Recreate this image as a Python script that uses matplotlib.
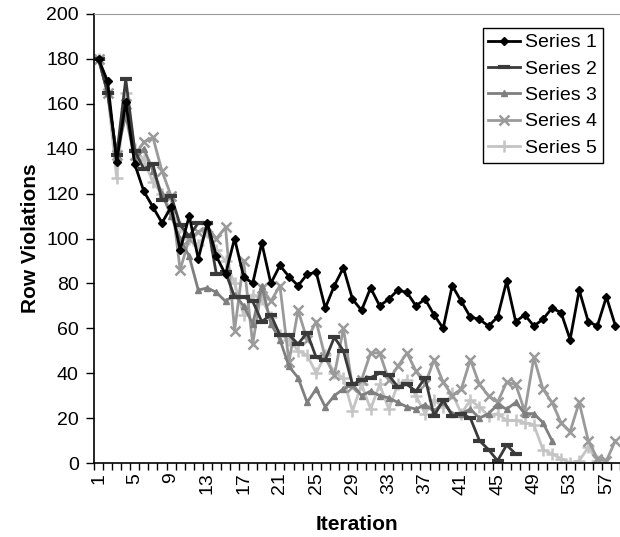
"""
Row violations per iteration for five runs.
"""

import matplotlib
matplotlib.use("Agg")
import matplotlib.pyplot as plt
import numpy as np

plt.rcParams["font.family"] = ["Liberation Sans", "DejaVu Sans"]

# values (one entry per iteration, runs end early)
series1 = [180, 170, 134, 161, 133, 121, 114, 107, 114, 95,
           110, 91, 107, 92, 84, 100, 83, 80, 98, 80,
           88, 83, 79, 84, 85, 69, 79, 87, 73, 68,
           78, 70, 73, 77, 76, 70, 73, 66, 60, 79,
           72, 65, 64, 61, 65, 81, 63, 66, 61, 64,
           69, 67, 55, 77, 63, 61, 74, 61]
series2 = [180, 165, 137, 171, 139, 131, 133, 117, 119, 106,
           101, 107, 107, 84, 85, 74, 74, 72, 63, 66,
           57, 57, 53, 58, 47, 46, 56, 50, 35, 37,
           38, 40, 39, 34, 35, 32, 38, 21, 28, 21,
           22, 20, 10, 6, 1, 8, 4]
series3 = [180, 165, 137, 155, 135, 140, 130, 120, 110, 100,
           92, 77, 78, 76, 72, 75, 70, 62, 79, 62,
           55, 43, 38, 27, 33, 25, 30, 33, 35, 30,
           32, 30, 29, 27, 25, 24, 26, 23, 27, 22,
           22, 24, 20, 22, 26, 24, 27, 22, 22, 18,
           10]
series4 = [180, 165, 137, 160, 137, 143, 145, 130, 119, 86,
           100, 103, 105, 100, 105, 59, 90, 53, 78, 72,
           79, 45, 68, 55, 63, 47, 39, 60, 34, 37,
           49, 49, 37, 43, 49, 41, 35, 46, 36, 30,
           33, 46, 35, 30, 27, 36, 35, 23, 47, 33,
           27, 18, 14, 27, 10, 2, 1, 10]
series5 = [180, 165, 127, 165, 140, 135, 125, 120, 112, 105,
           100, 97, 103, 95, 90, 80, 66, 75, 73, 65,
           57, 55, 50, 48, 40, 48, 40, 38, 23, 35,
           24, 35, 24, 35, 37, 30, 22, 28, 25, 31,
           22, 28, 25, 21, 22, 19, 19, 18, 17, 6,
           4, 2, 0, 1, 7, 1, 0]
labels = ["Series 1", "Series 2", "Series 3", "Series 4", "Series 5"]
n_iter = 58

fig = plt.figure(figsize=(6.2, 5.37), dpi=100)
ax = fig.add_axes([94 / 620, 74 / 537, 526 / 620, 449 / 537])

# grey levels and markers like the old excel chart
styles = [
    dict(color="black", marker="D", ms=4.5, mew=1),
    dict(color="#3a3a3a", marker="_", ms=8, mew=3),
    dict(color="#7f7f7f", marker="^", ms=5, mew=1),
    dict(color="#9a9a9a", marker="x", ms=6.5, mew=1.8),
    dict(color="#c4c4c4", marker="+", ms=8, mew=1.8),
]
data = [series1, series2, series3, series4, series5]

# draw the lighter series first so the black one sits on top
for vals, lab, st in reversed(list(zip(data, labels, styles))):
    x = np.arange(1, len(vals) + 1)
    ax.plot(x, vals, lw=2, label=lab, **st)

# axes decoration
ax.set_xlim(0.5, n_iter + 0.5)
ax.set_ylim(0, 200)
ax.set_yticks(np.arange(0, 201, 20))
ax.set_xticks(np.arange(1, n_iter + 1, 4))
ax.set_xticks(np.arange(0.5, n_iter + 1, 1), minor=True)
ax.tick_params(axis="x", which="major", length=0, pad=7, labelrotation=90, labelsize=14)
ax.tick_params(axis="x", which="minor", length=5, width=1, direction="out")
ax.tick_params(axis="y", length=6, width=1, direction="out", labelsize=14, pad=5)

ax.spines["right"].set_visible(False)
ax.spines["top"].set_color("#999999")
ax.spines["left"].set_linewidth(1.2)
ax.spines["bottom"].set_linewidth(1.2)

ax.set_xlabel("Iteration", fontsize=15, fontweight="bold", labelpad=15)
ax.set_ylabel("Row Violations", fontsize=15, fontweight="bold", labelpad=4)

# legend in original order
handles, labs = ax.get_legend_handles_labels()
leg = ax.legend(handles[::-1], labs[::-1], loc="upper right",
                bbox_to_anchor=(0.968, 0.969), borderaxespad=0,
                fontsize=14, handlelength=1.6, handletextpad=0.3,
                labelspacing=0.45, fancybox=False, framealpha=1,
                edgecolor="black", borderpad=0.3)
leg.get_frame().set_linewidth(1)

fig.savefig("out.png", dpi=100)
